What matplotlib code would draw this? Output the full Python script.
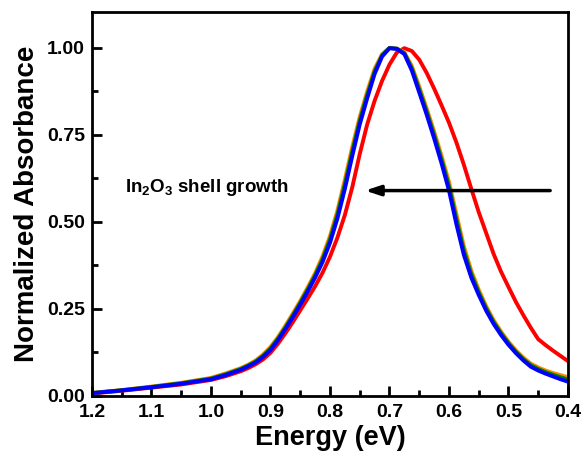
import matplotlib
matplotlib.use('Agg')
import matplotlib.pyplot as plt

plt.rcParams['font.family'] = ['Liberation Sans', 'DejaVu Sans']
plt.rcParams['font.weight'] = 'bold'
plt.rcParams['mathtext.fontset'] = 'custom'
plt.rcParams['mathtext.rm'] = 'Liberation Sans:bold'
plt.rcParams['mathtext.bf'] = 'Liberation Sans:bold'

energia = [1.20, 1.15, 1.10, 1.05, 1.00, 0.975, 0.95, 0.9375, 0.925, 0.9125,
           0.90, 0.8875, 0.875, 0.8625, 0.85, 0.8375, 0.825, 0.8125, 0.80, 0.7875,
           0.775, 0.7625, 0.75, 0.7375, 0.725, 0.7125, 0.70, 0.6875, 0.675, 0.6625,
           0.65, 0.6375, 0.625, 0.6125, 0.60, 0.5875, 0.575, 0.5625, 0.55, 0.5375,
           0.525, 0.5125, 0.50, 0.4875, 0.475, 0.4625, 0.45, 0.4375, 0.425, 0.4125, 0.40]

abs_rojo = [0.007, 0.015, 0.024, 0.033, 0.046, 0.057, 0.071, 0.080, 0.091, 0.105,
            0.124, 0.150, 0.180, 0.212, 0.246, 0.280, 0.315, 0.354, 0.400, 0.455,
            0.520, 0.600, 0.695, 0.780, 0.848, 0.905, 0.952, 0.987, 0.999, 0.991,
            0.966, 0.928, 0.883, 0.835, 0.785, 0.728, 0.664, 0.595, 0.528, 0.468,
            0.408, 0.357, 0.313, 0.270, 0.232, 0.196, 0.163, 0.146, 0.130, 0.115, 0.100]

abs_naranja = [0.009, 0.017, 0.027, 0.038, 0.052, 0.065, 0.080, 0.090, 0.102, 0.119,
               0.141, 0.169, 0.202, 0.237, 0.273, 0.312, 0.353, 0.401, 0.460, 0.533,
               0.622, 0.716, 0.802, 0.875, 0.940, 0.982, 1.000, 0.998, 0.987, 0.948,
               0.889, 0.826, 0.760, 0.690, 0.615, 0.522, 0.430, 0.360, 0.305, 0.258,
               0.218, 0.185, 0.156, 0.131, 0.110, 0.093, 0.082, 0.073, 0.066, 0.060, 0.054]

abs_verde = [0.0085, 0.0165, 0.026, 0.0365, 0.050, 0.0625, 0.0775, 0.0875, 0.099, 0.1155,
             0.1365, 0.1645, 0.1965, 0.2315, 0.2675, 0.306, 0.3465, 0.393, 0.450, 0.5215,
             0.6085, 0.703, 0.791, 0.865, 0.9325, 0.9785, 0.9995, 0.9975, 0.9845, 0.9415,
             0.8805, 0.817, 0.750, 0.679, 0.6025, 0.5075, 0.4175, 0.350, 0.2975, 0.2515,
             0.2125, 0.180, 0.1515, 0.127, 0.106, 0.0885, 0.0775, 0.0685, 0.061, 0.054, 0.0475]

abs_azul = [0.008, 0.016, 0.025, 0.035, 0.048, 0.060, 0.075, 0.085, 0.096, 0.112,
            0.132, 0.160, 0.192, 0.226, 0.262, 0.300, 0.340, 0.385, 0.440, 0.510,
            0.595, 0.690, 0.780, 0.855, 0.925, 0.975, 0.999, 0.997, 0.982, 0.935,
            0.872, 0.808, 0.740, 0.668, 0.590, 0.493, 0.405, 0.340, 0.290, 0.245,
            0.207, 0.175, 0.147, 0.123, 0.102, 0.084, 0.073, 0.064, 0.056, 0.048, 0.041]

fig = plt.figure(figsize=(5.84, 4.59), dpi=100)
ax = fig.add_axes([0.1575, 0.1373, 0.8151, 0.8366])

ax.plot(energia, abs_rojo, color='#ff0000', lw=2.8)
ax.plot(energia, abs_naranja, color='#ff8c00', lw=2.8)
ax.plot(energia, abs_verde, color='#008000', lw=2.8)
ax.plot(energia, abs_azul, color='#0000ff', lw=2.8)

ax.set_xlim(1.2, 0.4)
ax.set_ylim(0, 1.103)
ax.set_xticks([1.2, 1.1, 1.0, 0.9, 0.8, 0.7, 0.6, 0.5, 0.4])
ax.set_xticks([1.15, 1.05, 0.95, 0.85, 0.75, 0.65, 0.55, 0.45], minor=True)
ax.set_yticks([0, 0.25, 0.5, 0.75, 1.0])
ax.set_yticks([0.125, 0.375, 0.625, 0.875], minor=True)
ax.set_xticklabels(['1.2', '1.1', '1.0', '0.9', '0.8', '0.7', '0.6', '0.5', '0.4'])
ax.set_yticklabels(['0.00', '0.25', '0.50', '0.75', '1.00'])
ax.tick_params(which='both', direction='in', width=2, labelsize=14)
ax.tick_params(axis='x', pad=6)
ax.tick_params(axis='y', pad=5)
ax.tick_params(which='major', length=7)
ax.tick_params(which='minor', length=4)
for s in ax.spines.values():
    s.set_linewidth(2)

ax.set_xlabel('Energy (eV)', fontsize=19.5, fontweight='bold', labelpad=3)
ax.set_ylabel('Normalized Absorbance', fontsize=20, fontweight='bold', labelpad=5)

ax.annotate('', xy=(0.741, 0.59), xytext=(0.43, 0.59),
            arrowprops=dict(arrowstyle='-|>,head_length=0.9,head_width=0.3',
                            lw=2.5, color='black', shrinkA=0, shrinkB=0))
ax.text(1.145, 0.60, r'In$_\mathbf{2}$O$_\mathbf{3}$ shell growth', fontsize=13.5,
        fontweight='bold', va='center', ha='left')

fig.savefig('out.png', dpi=100)
